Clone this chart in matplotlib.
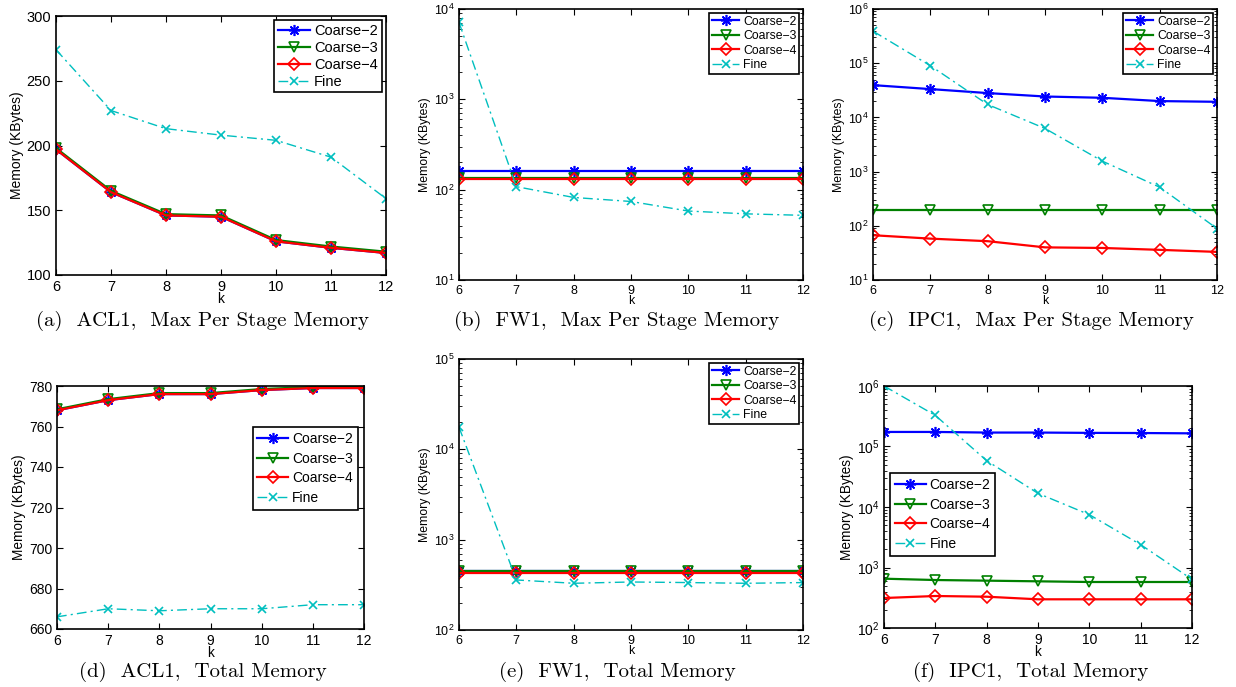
import numpy as np
import matplotlib
matplotlib.use("Agg")
import matplotlib.pyplot as plt

plt.rcParams['font.family'] = ['Liberation Sans', 'DejaVu Sans']
plt.rcParams['mathtext.fontset'] = 'custom'
plt.rcParams['mathtext.rm'] = 'Liberation Sans'
plt.rcParams['mathtext.it'] = 'Liberation Sans:italic'

k = [6, 7, 8, 9, 10, 11, 12]
names = ['Coarse\u22122', 'Coarse\u22123', 'Coarse\u22124', 'Fine']

# (a) ACL1, max per stage memory
acl_stage_c2 = [197, 164, 146, 145, 126, 121, 117]
acl_stage_c3 = [198, 165, 147, 146, 127, 122, 118]
acl_stage_c4 = [197, 164, 146, 145, 126, 121, 117]
acl_stage_fine = [274, 227, 213, 208, 204, 191, 159]

# (b) FW1, max per stage memory
fw_stage_c2 = [159, 159, 159, 159, 159, 159, 159]
fw_stage_c3 = [136, 136, 136, 136, 136, 136, 136]
fw_stage_c4 = [131, 131, 131, 131, 131, 131, 131]
fw_stage_fine = [7100, 108, 82, 74, 58, 54, 52]

# (c) IPC1, max per stage memory
ipc_stage_c2 = [39400, 33300, 28100, 24300, 23000, 20000, 19400]
ipc_stage_c3 = [196, 196, 196, 196, 196, 196, 196]
ipc_stage_c4 = [67, 58, 52, 40, 39, 36, 33]
ipc_stage_fine = [390000, 90000, 17300, 6250, 1560, 515, 89]

# (d) ACL1, total memory
acl_total_c2 = [768, 773, 776, 776, 778, 779, 779]
acl_total_c3 = [768.5, 773.5, 776.5, 776.5, 778.5, 779.5, 779.5]
acl_total_c4 = [768, 773, 776, 776, 778, 779, 779]
acl_total_fine = [666, 670, 669, 670, 670, 672, 672]

# (e) FW1, total memory
fw_total_c2 = [455, 455, 455, 455, 455, 455, 455]
fw_total_c3 = [445, 445, 445, 445, 445, 445, 445]
fw_total_c4 = [425, 425, 425, 425, 425, 425, 425]
fw_total_fine = [17600, 358, 329, 340, 335, 329, 335]

# (f) IPC1, total memory
ipc_total_c2 = [174000, 174000, 170000, 170000, 168000, 167000, 165000]
ipc_total_c3 = [653, 621, 606, 591, 576, 576, 576]
ipc_total_c4 = [313, 338, 329, 298, 298, 298, 298]
ipc_total_fine = [1000000, 327000, 58300, 16800, 7470, 2385, 637]

W, H = 1236, 687
fig = plt.figure(figsize=(W / 100, H / 100), dpi=100)


def add_panel(l, t, r, b):
    return fig.add_axes([l / W, 1 - b / H, (r - l) / W, (b - t) / H])


def draw(ax, series, log, tfs, lfs, gfs, leg_kw):
    c2, c3, c4, fine = series
    ax.plot(k, c2, color='b', lw=1.6, marker=(8, 2, 0), ms=8, mew=1.2, label=names[0])
    ax.plot(k, c3, color=(0, 0.5, 0), lw=1.6, marker='v', ms=7, mfc='none', mew=1.2, label=names[1])
    ax.plot(k, c4, color='r', lw=1.6, marker='D', ms=6, mfc='none', mew=1.2, label=names[2])
    ax.plot(k, fine, color=(0, 0.75, 0.75), lw=1.0, ls=(0, (7, 3, 1.5, 3)), marker='x', ms=6,
            mew=1.2, label=names[3])
    if log:
        ax.set_yscale('log')
    ax.set_xlim(6, 12)
    ax.set_xticks(k)
    ax.tick_params(which='both', direction='in', top=True, right=True, labelsize=tfs)
    ax.tick_params(which='major', length=4)
    ax.tick_params(which='minor', length=2)
    for s in ax.spines.values():
        s.set_linewidth(1.2)
    ax.set_xlabel('k', fontsize=lfs, labelpad=-1)
    ax.set_ylabel('Memory (KBytes)', fontsize=lfs, labelpad=2)
    opts = dict(fontsize=gfs, fancybox=False, framealpha=1, edgecolor='k',
                handlelength=2.2, handletextpad=0.3, borderpad=0.25,
                labelspacing=0.2, borderaxespad=0.3)
    opts.update(leg_kw)
    leg = ax.legend(**opts)
    leg.get_frame().set_linewidth(1.2)


ax = add_panel(56, 16, 386, 275)
draw(ax, [acl_stage_c2, acl_stage_c3, acl_stage_c4, acl_stage_fine], False, 10.5, 10, 10.5,
     dict(loc='upper right'))
ax.set_ylim(100, 300)
ax.set_yticks([100, 150, 200, 250, 300])

ax = add_panel(459, 9, 803, 280)
draw(ax, [fw_stage_c2, fw_stage_c3, fw_stage_c4, fw_stage_fine], True, 9, 8.8, 8.8,
     dict(loc='upper right'))
ax.set_ylim(10, 1e4)

ax = add_panel(873, 9, 1217, 280)
draw(ax, [ipc_stage_c2, ipc_stage_c3, ipc_stage_c4, ipc_stage_fine], True, 9, 8.8, 8.8,
     dict(loc='upper right'))
ax.set_ylim(10, 1e6)

ax = add_panel(57, 386, 364, 629)
draw(ax, [acl_total_c2, acl_total_c3, acl_total_c4, acl_total_fine], False, 10, 9.8, 10,
     dict(loc='upper right', bbox_to_anchor=(0.98, 0.83), borderaxespad=0,
          labelspacing=0.4, borderpad=0.35))
ax.set_ylim(660, 780)
ax.set_yticks([660, 680, 700, 720, 740, 760, 780])

ax = add_panel(459, 359, 803, 630)
draw(ax, [fw_total_c2, fw_total_c3, fw_total_c4, fw_total_fine], True, 9, 8.8, 8.8,
     dict(loc='upper right'))
ax.set_ylim(100, 1e5)

ax = add_panel(884, 386, 1192, 628)
draw(ax, [ipc_total_c2, ipc_total_c3, ipc_total_c4, ipc_total_fine], True, 10, 9.8, 10,
     dict(loc='upper left', bbox_to_anchor=(0.02, 0.64), borderaxespad=0,
          labelspacing=0.4, borderpad=0.35))
ax.set_ylim(100, 1e6)

captions = ['(a)  ACL1,  Max Per Stage Memory', '(b)  FW1,  Max Per Stage Memory',
            '(c)  IPC1,  Max Per Stage Memory', '(d)  ACL1,  Total Memory',
            '(e)  FW1,  Total Memory', '(f)  IPC1,  Total Memory']
cap_x = [203, 617, 1031, 203, 617, 1031]
cap_y = [321, 321, 321, 672, 672, 672]
for txt, cx, cy in zip(captions, cap_x, cap_y):
    fig.text(cx / W, 1 - cy / H, txt, family='cmr10', fontsize=15, ha='center', va='center')

fig.savefig('out.png', dpi=100)
